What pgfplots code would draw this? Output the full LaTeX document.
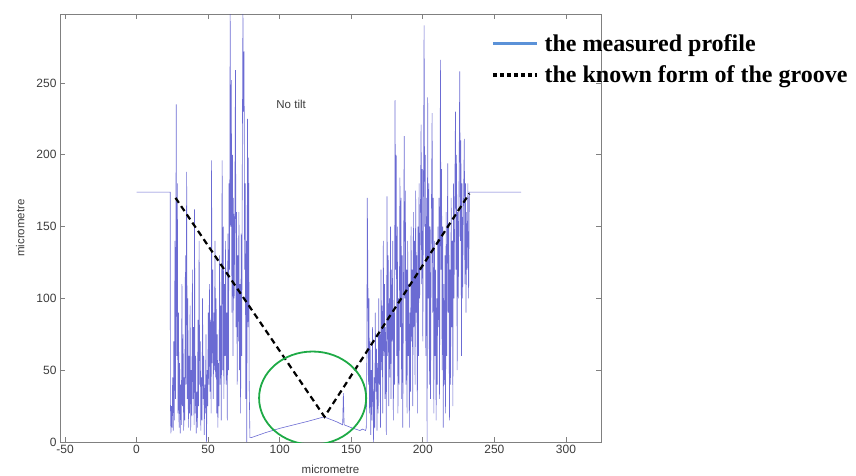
\documentclass[border=0pt]{standalone}
\usepackage{pgfplots}
\pgfplotsset{compat=1.18}
\usepackage{fontspec}
\setmainfont{Liberation Sans}
\newfontfamily\legfont{Liberation Serif}
\definecolor{prof}{RGB}{70,70,200}
\definecolor{legblue}{RGB}{91,146,216}
\definecolor{ellgreen}{RGB}{30,170,70}
\definecolor{axgray}{RGB}{128,128,128}
\definecolor{labgray}{RGB}{60,60,60}
\begin{document}
\begin{tikzpicture}
\path[use as bounding box] (-60pt,-33pt) rectangle (796pt,442pt);
\begin{axis}[
  at={(0pt,0pt)}, anchor=south west,
  scale only axis, width=541pt, height=428pt,
  xmin=-53.5, xmax=324.5, ymin=0, ymax=298,
  xtick={-50,0,...,300}, ytick={0,50,...,250},
  tick align=inside, major tick length=5pt,
  axis line style={axgray, line width=0.8pt},
  tick style={axgray, line width=0.8pt},
  /pgf/number format/assume math mode=true,
  ticklabel style={font=\fontsize{12}{14}\selectfont, text=labgray},
  xlabel={micrometre}, ylabel={micrometre},
  label style={font=\fontsize{11.5}{13}\selectfont, text=labgray},
  xlabel style={yshift=-4pt},
  ylabel style={yshift=5pt},
  legend style={at={(rel axis cs:0.791,0.962)}, anchor=north west, draw=none, fill=none,
    font=\legfont\bfseries\fontsize{24}{26}\selectfont, row sep=9pt,
    /tikz/every odd column/.append style={column sep=4pt}},
  legend cell align=left,
  legend image code/.code={\draw[#1] (0pt,0pt) -- (44pt,0pt);},
]
\addlegendimage{legblue, line width=3pt}
\addlegendentry{the measured profile}
\addlegendimage{black, line width=3.5pt, dash pattern=on 4pt off 3pt}
\addlegendentry{the known form of the groove}

\addplot[prof, line width=0.6pt, opacity=0.8, forget plot] coordinates {
(0,174) (23.5,174) (23.6,30) (24.0,6) (24.4,25) (24.8,10) (25.2,45) (25.6,8) (26.0,70) (26.4,15)
(26.8,140) (27.2,30) (27.7,235) (28.1,60) (28.5,180) (28.9,20) (29.3,90) (29.7,10) (30.1,55) (30.5,6)
(30.9,40) (31.3,12) (31.7,110) (32.1,25) (32.5,75) (32.9,8) (33.3,45) (33.7,15) (34.1,130) (34.5,40)
(35.0,188) (35.4,30) (35.8,100) (36.2,10) (36.6,60) (37.0,20) (37.4,95) (37.8,8) (38.2,50) (38.6,18)
(39.0,120) (39.4,30) (39.8,80) (40.2,12) (40.5,162) (40.9,20) (41.3,60) (41.7,6) (42.1,35) (42.5,10)
(42.9,85) (43.3,25) (43.7,140) (44.1,40) (44.5,70) (44.9,8) (45.3,45) (45.7,15) (46.1,100) (46.5,30)
(46.9,60) (47.3,5) (47.7,40) (48.1,20) (48.5,75) (48.9,0) (49.3,50) (49.7,25) (50.1,90) (50.5,40)
(50.9,110) (51.3,35) (51.7,85) (52.1,20) (52.4,196) (52.8,55) (53.2,120) (53.6,30) (54.0,90) (54.4,50)
(54.8,140) (55.2,45) (55.6,100) (56.0,20) (56.4,75) (56.8,10) (57.2,55) (57.6,25) (58.0,130) (58.4,40)
(58.8,95) (59.2,15) (59.8,196) (60.2,50) (60.6,150) (61.0,30) (61.4,110) (61.8,60) (62.2,140) (62.6,40)
(63.0,90) (63.4,15) (63.8,145) (64.2,50) (64.6,180) (65.0,120) (65.4,300) (65.8,150) (66.2,252) (66.6,90)
(67.0,200) (67.4,60) (67.8,170) (68.2,100) (68.6,150) (69.1,259) (69.5,80) (69.9,160) (70.3,40) (70.7,130)
(71.1,70) (71.5,160) (71.9,50) (72.3,110) (72.7,20) (73.1,145) (73.5,60) (73.9,203) (74.3,300) (74.7,230)
(75.1,272) (75.5,120) (75.9,180) (76.3,30) (76.7,140) (77.0,0) (77.5,225) (77.9,80) (78.3,198) (78.7,40)
(79.2,3) (80,3) (90,6.5) (100,9.5) (110,12) (120,14.5) (131,17.5) (140,14) (144,12) (144.5,34)
(145,12) (150,10) (154.5,8.5) (156,8) (158,9) (160,8)
(160.5,10) (160.9,60) (161.2,170) (161.6,120) (162.0,40) (162.4,100) (162.8,20) (163.2,70) (163.6,5) (164.0,50)
(164.4,15) (164.8,80) (165.2,30) (165.6,0) (166.0,45) (166.4,10) (166.8,90) (167.2,35) (167.6,65) (168.0,8)
(168.4,55) (168.8,20) (169.2,100) (169.6,40) (170.0,75) (170.4,10) (170.8,120) (171.2,50) (171.6,95) (172.0,20)
(172.4,140) (172.8,60) (173.2,110) (173.6,30) (174.0,80) (174.5,5) (175.0,171) (175.4,60) (175.8,130) (176.2,25)
(176.6,100) (177.0,45) (177.4,150) (177.8,30) (178.2,120) (178.6,70) (179.0,140) (179.4,15) (179.8,90) (180.2,40)
(180.6,238) (181.0,120) (181.4,200) (181.8,60) (182.2,150) (182.6,20) (183.0,100) (183.4,40) (184.0,184) (184.4,80)
(184.8,170) (185.2,30) (185.6,130) (186.0,10) (186.4,90) (187.0,213) (187.4,100) (187.8,175) (188.2,40) (188.6,120)
(189.0,20) (189.4,140) (189.8,60) (190.2,110) (190.6,10) (191.0,90) (191.4,35) (191.8,150) (192.2,70) (192.6,120)
(193.0,25) (193.4,160) (193.8,80) (194.2,140) (194.6,40) (195.0,175) (195.4,90) (195.8,130) (196.2,20) (196.6,150)
(197.0,60) (197.4,180) (197.8,100) (198.2,140) (198.8,221) (199.2,110) (199.6,190) (200.0,70) (200.4,160) (200.9,290)
(201.3,150) (201.7,200) (202.1,60) (202.5,170) (203.0,0) (203.4,240) (203.8,100) (204.2,180) (204.6,40) (205.0,150)
(205.4,30) (205.8,130) (206.5,229) (206.9,90) (207.3,170) (207.7,20) (208.1,140) (208.5,60) (208.9,120) (209.3,15)
(209.7,100) (210.1,40) (210.5,150) (210.9,80) (211.3,170) (211.7,30) (212.3,266) (212.7,120) (213.1,190) (213.5,50)
(213.9,150) (214.3,10) (214.7,110) (215.1,40) (215.5,130) (215.9,20) (216.3,160) (216.7,60) (217.4,194) (217.8,90)
(218.2,150) (218.6,15) (219.0,120) (219.4,40) (219.8,170) (220.2,80) (220.6,140) (221.0,25) (221.4,180) (221.8,100)
(222.8,230) (223.2,120) (223.6,200) (224.0,50) (224.4,160) (224.8,100) (225.8,258) (226.2,140) (226.6,210) (227.0,60)
(227.4,180) (227.8,100) (228.2,150) (229.0,211) (229.4,110) (229.8,180) (230.2,90) (230.6,160) (231.0,120) (231.5,180)
(232.0,100) (232.5,174) (268.7,174)
};
\addplot[black, line width=2.2pt, dash pattern=on 6pt off 4pt, forget plot] coordinates {
(27.2,170) (131.3,17.6) (232.5,173)
};
\draw[ellgreen, line width=1.8pt] (axis cs:123,30.6) ellipse [x radius=37.4, y radius=32.4];
\node[font=\fontsize{11.5}{13}\selectfont, text=labgray] at (axis cs:108,235) {No tilt};
\end{axis}
\end{tikzpicture}
\end{document}
